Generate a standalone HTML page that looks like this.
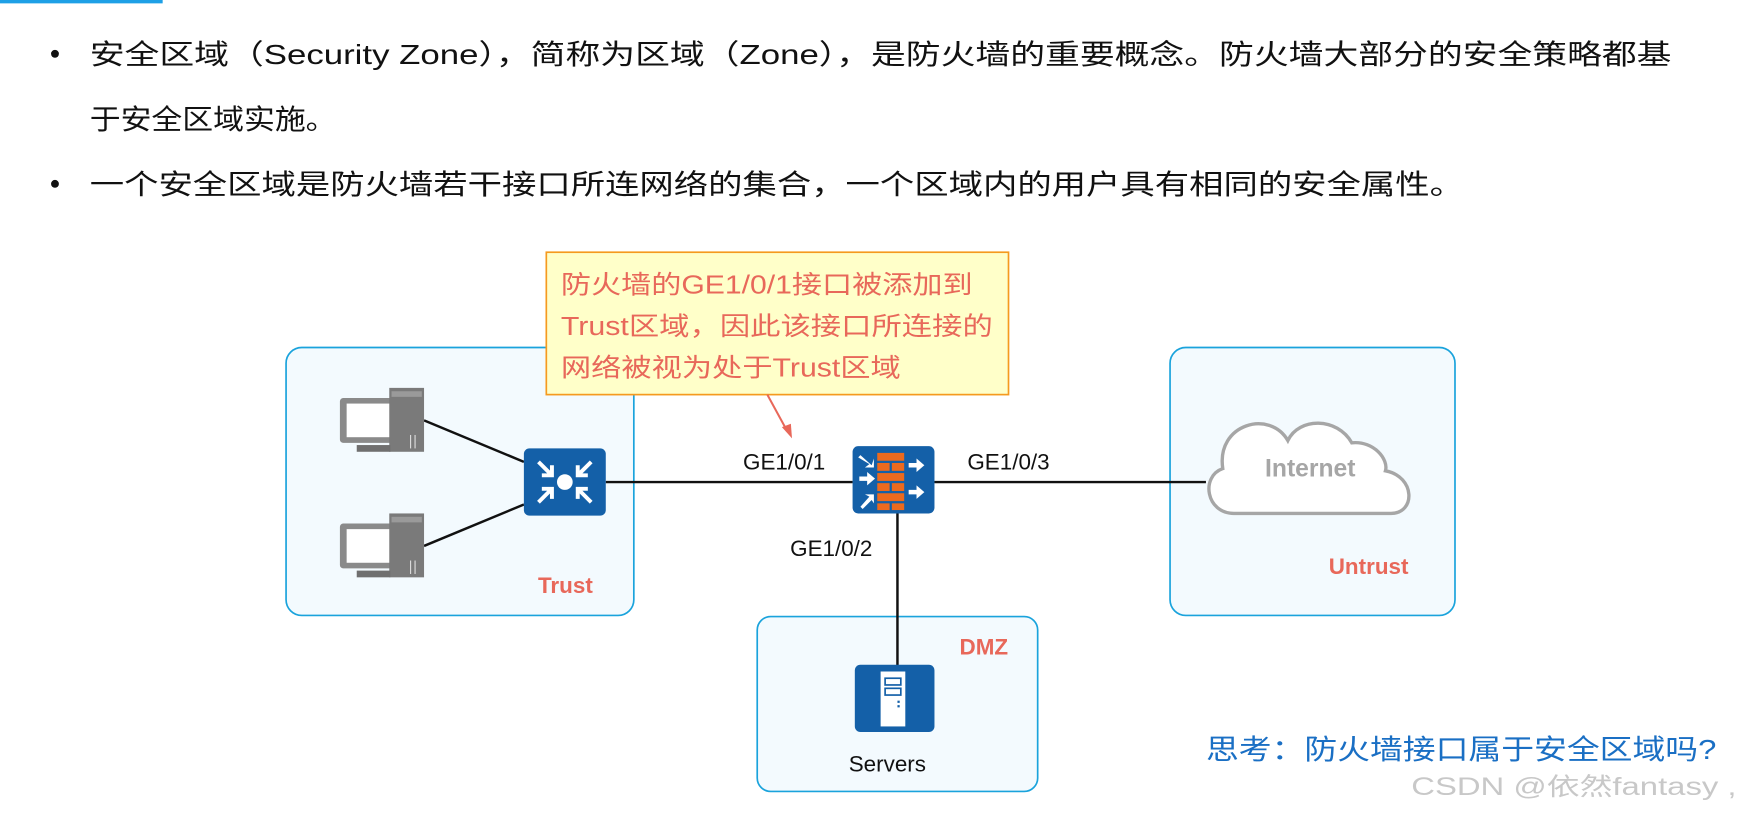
<!DOCTYPE html>
<html><head><meta charset="utf-8"><style>
html,body{margin:0;padding:0;background:#fff;}
svg{display:block;}
text{font-family:"Liberation Sans","Noto Sans CJK SC",sans-serif;}
</style></head><body>
<svg width="1759" height="815" viewBox="0 0 1568 727" preserveAspectRatio="none" xmlns="http://www.w3.org/2000/svg">
<rect x="0" y="0" width="145" height="3" fill="#1ea0e6"/>
<circle cx="49" cy="48" r="3.5" fill="#111"/>
<text x="80" y="57" font-size="25" fill="#111" textLength="1410" lengthAdjust="spacingAndGlyphs">安全区域（Security Zone），简称为区域（Zone），是防火墙的重要概念。防火墙大部分的安全策略都基</text>
<text x="80" y="115" font-size="25" fill="#111" textLength="220" lengthAdjust="spacingAndGlyphs">于安全区域实施。</text>
<circle cx="49" cy="164" r="3.5" fill="#111"/>
<text x="80" y="173" font-size="25" fill="#111" textLength="1225" lengthAdjust="spacingAndGlyphs">一个安全区域是防火墙若干接口所连网络的集合，一个区域内的用户具有相同的安全属性。</text>

<!-- zones -->
<rect x="255" y="310" width="310" height="239" rx="14" fill="#f3fafe" stroke="#1aa3dc" stroke-width="1.5"/>
<rect x="1043" y="310" width="254" height="239" rx="14" fill="#f3fafe" stroke="#1aa3dc" stroke-width="1.5"/>
<rect x="675" y="550" width="250" height="156" rx="12" fill="#f3fafe" stroke="#1aa3dc" stroke-width="1.5"/>

<!-- lines -->
<g stroke="#111" stroke-width="2.2">
<line x1="378" y1="375" x2="467" y2="412"/>
<line x1="378" y1="487" x2="467" y2="450"/>
<line x1="540" y1="430" x2="760" y2="430"/>
<line x1="833" y1="430" x2="1075" y2="430"/>
<line x1="800" y1="458" x2="800" y2="594"/>
</g>

<!-- callout -->
<rect x="487" y="225" width="412" height="127" fill="#ffffc9" stroke="#f59a1f" stroke-width="1.5"/>
<g fill="#e8685a" font-size="23">
<text x="500" y="262" textLength="367" lengthAdjust="spacingAndGlyphs">防火墙的GE1/0/1接口被添加到</text>
<text x="500" y="299" textLength="385" lengthAdjust="spacingAndGlyphs">Trust区域，因此该接口所连接的</text>
<text x="500" y="336" textLength="303" lengthAdjust="spacingAndGlyphs">网络被视为处于Trust区域</text>
</g>
<line x1="684" y1="352" x2="702" y2="385" stroke="#e8685a" stroke-width="1.8"/>
<polygon points="706,391 697,381 705,378" fill="#e8685a"/>

<!-- PCs -->
<g id="pc">
<rect x="303" y="355" width="52" height="40" rx="3" fill="#8a8a8a"/>
<rect x="309" y="360" width="40" height="30" fill="#fff"/>
<rect x="347" y="346" width="31" height="57" fill="#7a7a7a"/>
<rect x="349" y="349" width="27" height="5" fill="#9a9a9a"/>
<rect x="318" y="397" width="30" height="6" fill="#6f6f6f"/>
<line x1="366" y1="388" x2="366" y2="400" stroke="#ddd" stroke-width="1"/>
<line x1="370" y1="388" x2="370" y2="400" stroke="#ddd" stroke-width="1"/>
</g>
<use href="#pc" transform="translate(0,112)"/>

<!-- switch -->
<rect x="467" y="400" width="73" height="60" rx="5" fill="#1460a8"/>
<circle cx="503.5" cy="430" r="7" fill="#fff"/>
<g stroke="#fff" stroke-width="3.5" fill="none">
<path d="M480 412 L492 424 M492 415 L492 424 L483 424"/>
<path d="M527 412 L515 424 M515 415 L515 424 L524 424"/>
<path d="M480 448 L492 436 M492 445 L492 436 L483 436"/>
<path d="M527 448 L515 436 M515 445 L515 436 L524 436"/>
</g>

<!-- firewall -->
<rect x="760" y="398" width="73" height="60" rx="5" fill="#1460a8"/>
<g fill="#ec6a1e">
<rect x="782" y="404" width="24" height="7"/>
<rect x="782" y="413" width="11" height="7"/><rect x="795" y="413" width="11" height="7"/>
<rect x="782" y="422" width="24" height="7"/>
<rect x="782" y="431" width="11" height="7"/><rect x="795" y="431" width="11" height="7"/>
<rect x="782" y="440" width="24" height="7"/>
<rect x="782" y="449" width="11" height="6"/><rect x="795" y="449" width="11" height="6"/>
</g>
<g fill="#fff">
<polygon points="766,425 773,425 773,421 780,427 773,433 773,429 766,429"/>
<polygon points="810,413 817,413 817,409 824,415 817,421 817,417 810,417"/>
<polygon points="810,437 817,437 817,433 824,439 817,445 817,441 810,441"/>
<polygon points="767,406 777,415 779,409 779,417 771,417 775,414 765,408"/>
<polygon points="767,452 775,443 771,441 779,441 779,449 777,446 769,454"/>
</g>

<!-- server -->
<rect x="762" y="593" width="71" height="60" rx="5" fill="#1460a8"/>
<rect x="785" y="599" width="22" height="49" fill="#fff"/>
<rect x="789" y="605" width="14" height="6" fill="none" stroke="#1460a8" stroke-width="1.5"/>
<rect x="789" y="614" width="14" height="6" fill="none" stroke="#1460a8" stroke-width="1.5"/>
<rect x="800" y="625" width="2" height="2" fill="#1460a8"/><rect x="800" y="629" width="2" height="2" fill="#1460a8"/>

<!-- cloud -->
<path d="M1100 458 C1075 458 1070 425 1090 418 C1084 378 1132 365 1148 393 C1158 372 1192 372 1205 395 C1225 393 1238 410 1235 420 C1262 425 1262 458 1240 458 Z" fill="#fff" stroke="#a6a6a6" stroke-width="3"/>
<text x="1168" y="425" font-size="22" font-weight="bold" fill="#a6a6a6" text-anchor="middle">Internet</text>

<!-- labels -->
<g font-size="20" fill="#111" text-anchor="middle">
<text x="699" y="419">GE1/0/1</text>
<text x="899" y="419">GE1/0/3</text>
<text x="741" y="496">GE1/0/2</text>
<text x="791" y="688">Servers</text>
</g>
<g font-size="20" fill="#e8685a" font-weight="bold" text-anchor="middle">
<text x="504" y="529">Trust</text>
<text x="1220" y="512">Untrust</text>
<text x="877" y="584">DMZ</text>
</g>
<text x="1075" y="677" font-size="25" fill="#1a6fc4" textLength="455" lengthAdjust="spacingAndGlyphs">思考：防火墙接口属于安全区域吗?</text>
<text x="1258" y="709" font-size="22" fill="#c8c8c8" textLength="290" lengthAdjust="spacingAndGlyphs">CSDN @依然fantasy ,</text>
</svg>
</body></html>
